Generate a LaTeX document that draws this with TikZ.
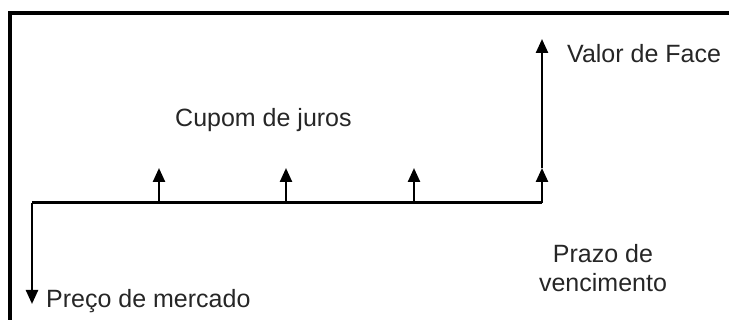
\documentclass[tikz,border=0pt]{standalone}
\usepackage{fontspec}
\setmainfont{Liberation Sans}
\usetikzlibrary{arrows.meta}
\tikzset{
  frameline/.style={line width=3.2pt, line cap=rect},
  axisline/.style={line width=3pt},
  flow/.style={line width=2.4pt, -{Triangle[width=12pt,length=14pt]}},
  lbl/.style={inner sep=0pt, font=\fontsize{25}{30}\selectfont, text=black!85}
}
\begin{document}
\begin{tikzpicture}[x=1pt,y=-1pt]
\useasboundingbox (0,0) rectangle (729,320);
% frame
\coordinate (fbl) at (10,324);
\coordinate (ftl) at (10,13);
\coordinate (ftr) at (733,13);
\draw[frameline] (fbl) -- (ftl) -- (ftr);
% axis points
\coordinate (o) at (32,203);
\coordinate (t1) at (159,203);
\coordinate (t2) at (286,203);
\coordinate (t3) at (414,203);
\coordinate (t4) at (542,203);
\coordinate (d) at (32,304);
\coordinate (a1) at (159,168);
\coordinate (a2) at (286,168);
\coordinate (a3) at (414,168);
\coordinate (a4) at (542,168);
\coordinate (f) at (542,39);
% axis
\draw[axisline] (o) -- (t4);
% flows
\draw[flow] (o) -- (d);
\draw[flow] (t1) -- (a1);
\draw[flow] (t2) -- (a2);
\draw[flow] (t3) -- (a3);
\draw[flow] (t4) -- (a4);
\draw[flow] (a4) -- (f);
% labels
\node[lbl, anchor=base west] (face) at (567,63) {Valor de Face};
\node[lbl, anchor=base west] (cupom) at (175,127) {Cupom de juros};
\node[lbl, anchor=base west] (preco) at (46,308) {Preço de mercado};
\node[lbl, anchor=base] (prazo) at (603,263) {Prazo de};
\node[lbl, anchor=base] (venc) at (603,292) {vencimento};
\end{tikzpicture}
\end{document}
